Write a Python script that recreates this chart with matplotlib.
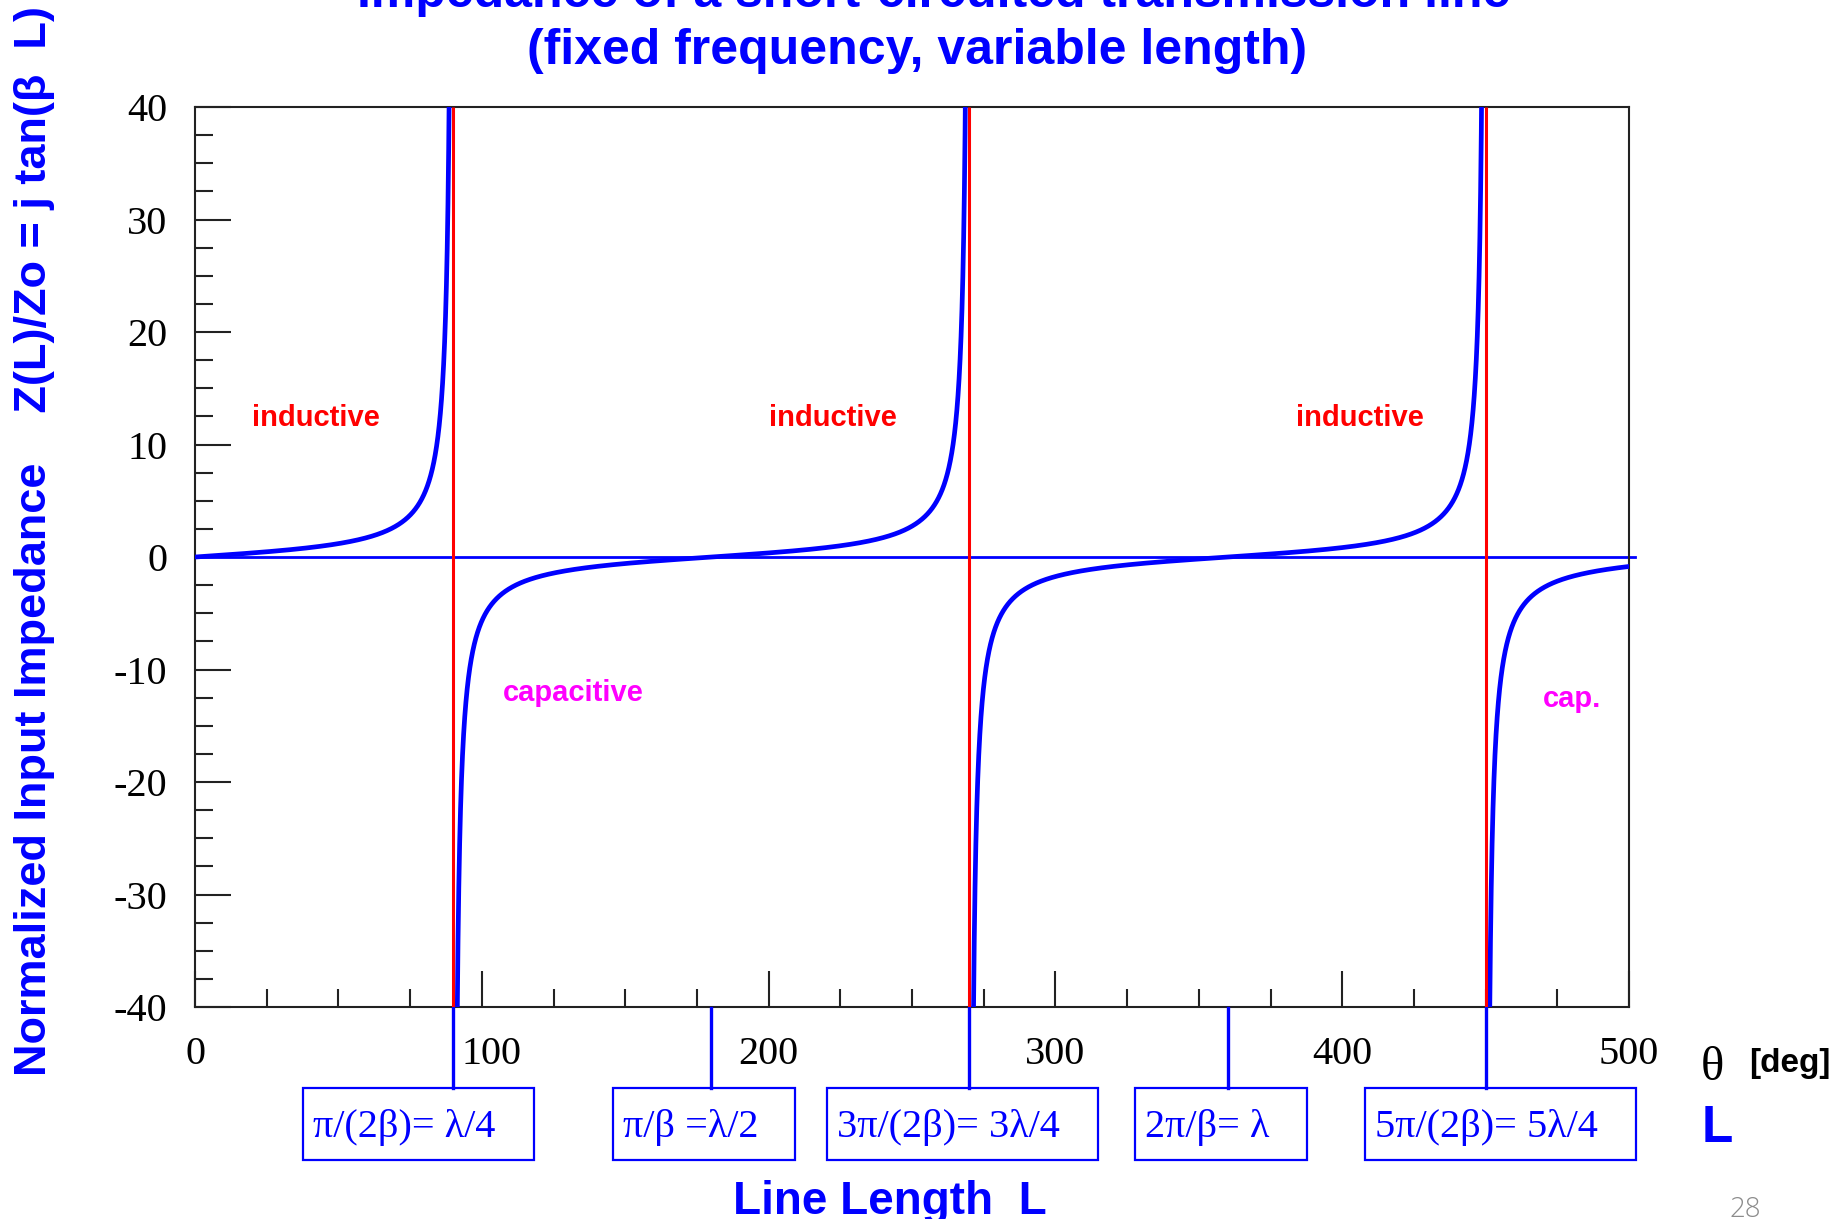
import numpy as np
import matplotlib.pyplot as plt
from matplotlib import transforms
from matplotlib.patches import Rectangle
from matplotlib.ticker import FixedLocator, MultipleLocator

plt.rcParams['font.family'] = ['Liberation Serif', 'DejaVu Serif']

# electrical length range [deg] and normalized impedance range
theta_max = 500
z_min, z_max = -40, 40
x_ticks = [0, 100, 200, 300, 400, 500]
x_tick_labels = ["0", "100", "200", "300", "400", "500"]
y_ticks = [-40, -30, -20, -10, 0, 10, 20, 30, 40]
y_tick_labels = ["-40", "-30", "-20", "-10", "0", "10", "20", "30", "40"]

# poles of tan(theta): quarter-wave multiples, line looks open
poles = [90, 270, 450]
# multiples of a quarter wavelength that get a callout box
quarter_marks = [90, 180, 270, 360, 450]
mark_labels = ["π/(2β)= λ/4", "π/β =λ/2", "3π/(2β)= 3λ/4", "2π/β= λ", "5π/(2β)= 5λ/4"]

region_names = ["inductive", "inductive", "inductive", "capacitive", "cap."]
region_colors = ["red", "red", "red", "magenta", "magenta"]

sans = ['Liberation Sans', 'DejaVu Sans']
blue = '#0000ff'

fig = plt.figure(figsize=(18.37, 12.19), dpi=100)
ax = fig.add_axes([0.1062, 0.1739, 0.7806, 0.7383])

# Z(L)/Zo = j tan(beta L), theta = beta L in degrees
theta = np.arange(0, theta_max + 0.005, 0.005)
z = np.tan(np.radians(theta))
z[np.abs(z) > 200] = np.nan

ax.plot([0, 502], [0, 0], color=blue, lw=2.0, clip_on=False, zorder=2)
ax.plot(theta, z, color=blue, lw=3.4, zorder=3)
ax.vlines(poles, z_min, z_max, color='red', lw=2.2, zorder=4)

ax.set_xlim(0, theta_max)
ax.set_ylim(z_min, z_max)
ax.xaxis.set_major_locator(FixedLocator(x_ticks))
ax.set_xticklabels(x_tick_labels)
ax.yaxis.set_major_locator(FixedLocator(y_ticks))
ax.set_yticklabels(y_tick_labels)
ax.xaxis.set_minor_locator(MultipleLocator(25))
ax.yaxis.set_minor_locator(MultipleLocator(2.5))
ax.tick_params(which='both', direction='in', top=False, right=False,
               width=1.5, color='#222222')
ax.tick_params(which='major', length=26, labelsize=29)
ax.tick_params(which='minor', length=13)
ax.tick_params(axis='x', pad=21)
ax.tick_params(axis='y', pad=20)
for s in ax.spines.values():
    s.set_linewidth(1.5)
    s.set_color('#222222')

# nudge "100" off the quarter-wave callout line
lab100 = ax.get_xticklabels()[1]
lab100.set_transform(lab100.get_transform()
                     + transforms.ScaledTranslation(10 / 100, 0, fig.dpi_scale_trans))

# region annotations
region_pos = [(42, 12.4), (222.5, 12.4), (406, 12.4), (132, -12.1), (480, -12.6)]
for name, col, (x, y) in zip(region_names, region_colors, region_pos):
    ax.text(x, y, name, color=col, fontsize=21, fontweight='bold', family=sans,
            ha='center', va='center', zorder=5)

# callout lines from the axis down to the boxes
trans = transforms.blended_transform_factory(ax.transData, fig.transFigure)
for m in quarter_marks:
    ax.plot([m, m], [0.1735, 0.1075], color=blue, lw=2.4, transform=trans,
            clip_on=False, zorder=3)

box_left = [0.1649, 0.3337, 0.4502, 0.6179, 0.7431]
box_right = [0.2907, 0.4328, 0.5977, 0.7115, 0.8906]
box_bottom, box_top = 0.0484, 0.1075
for x0, x1, lab in zip(box_left, box_right, mark_labels):
    fig.add_artist(Rectangle((x0, box_bottom), x1 - x0, box_top - box_bottom,
                             transform=fig.transFigure, fill=False,
                             ec=blue, lw=1.6))
    fig.text(x0 + 10 / 1837, (box_bottom + box_top) / 2 - 0.003, lab, color=blue,
             fontsize=29, ha='left', va='center')

# titles and axis captions
fig.text(0.5084, 0.9943, "Impedance of a short-circuited transmission line",
         color=blue, fontsize=36, fontweight='bold', family=sans,
         ha='center', va='baseline')
fig.text(0.4993, 0.9475, "(fixed frequency, variable length)",
         color=blue, fontsize=36, fontweight='bold', family=sans,
         ha='center', va='baseline')
fig.text(0.019, 0.5566, "Normalized Input Impedance    Z(L)/Zo = j tan(β  L)",
         color=blue, fontsize=32.5, fontweight='bold', family=sans,
         rotation=90, ha='center', va='center')
fig.text(0.4846, 0.0043, "Line Length  L", color=blue, fontsize=33,
         fontweight='bold', family=sans, ha='center', va='baseline')
fig.text(0.926, 0.1140, "θ", color='black', fontsize=35, ha='left', va='baseline')
fig.text(0.9521, 0.1205, "[deg]", color='black', fontsize=24, fontweight='bold',
         family=sans, ha='left', va='baseline')
fig.text(0.9265, 0.0632, "L", color=blue, fontsize=37, fontweight='bold',
         family=sans, ha='left', va='baseline')
fig.text(0.950, 0.002, "28", color='#8c8c8c', fontsize=20, fontweight='light',
         family=['Open Sans', 'DejaVu Sans'], ha='center', va='baseline')

fig.savefig("out.png", dpi=100)
